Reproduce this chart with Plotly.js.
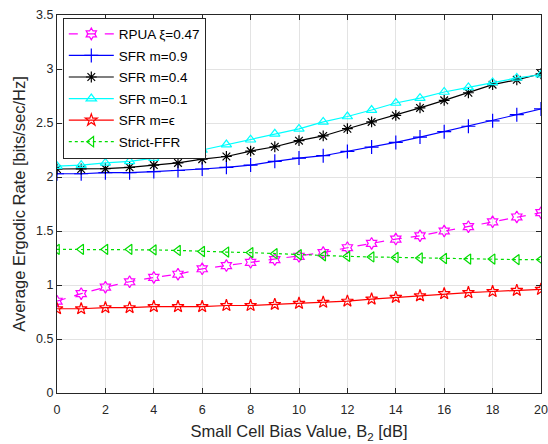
<!DOCTYPE html>
<html>
<head>
<meta charset="utf-8">
<script src="https://cdn.plot.ly/plotly-3.0.1.min.js"></script>
<style>html,body{margin:0;padding:0;background:#fff;}#chart{width:548px;height:444px;}</style>
</head>
<body>
<div id="chart"></div>
<script>
const biasDb = [0,1,2,3,4,5,6,7,8,9,10,11,12,13,14,15,16,17,18,19,20];
const rpua = [0.85,0.92,0.98,1.03,1.07,1.10,1.15,1.18,1.21,1.235,1.265,1.30,1.345,1.385,1.425,1.456,1.50,1.54,1.585,1.63,1.67];
const sfr09 = [2.03,2.03,2.04,2.04,2.05,2.06,2.074,2.09,2.11,2.145,2.175,2.197,2.237,2.277,2.32,2.37,2.42,2.47,2.52,2.577,2.63];
const sfr04 = [2.074,2.074,2.077,2.09,2.11,2.13,2.165,2.19,2.24,2.28,2.336,2.38,2.447,2.51,2.57,2.64,2.71,2.78,2.855,2.90,2.956];
const sfr01 = [2.10,2.11,2.13,2.145,2.175,2.20,2.25,2.30,2.345,2.40,2.445,2.51,2.56,2.62,2.685,2.73,2.787,2.83,2.876,2.917,2.947];
const sfrEps = [0.78,0.78,0.79,0.79,0.80,0.80,0.80,0.81,0.81,0.82,0.83,0.84,0.85,0.87,0.885,0.90,0.92,0.93,0.94,0.95,0.96];
const strictFfr = [1.33,1.33,1.33,1.33,1.325,1.32,1.31,1.305,1.30,1.29,1.28,1.27,1.265,1.26,1.255,1.25,1.245,1.24,1.24,1.235,1.235];
const seriesNames = ["RPUA \u03BE=0.47","SFR m=0.9","SFR m=0.4","SFR m=0.1","SFR m=\u03F5","Strict-FFR"];

const fam = "Liberation Sans, Arial, sans-serif";
const tickFont = {family: fam, size: 12.5, color: "#262626"};
const titleFont = {family: fam, size: 16.5, color: "#262626"};
function tr(y, name, color, symbol, dash, size) {
  return {x: biasDb, y: y, name: name, legendgroup: name, type: "scatter", mode: "lines+markers",
    line: {color: color, width: 1.2, dash: dash},
    marker: {symbol: symbol, size: size, color: color, line: {color: color, width: 1.2}}};
}
const data = [
  tr(rpua, seriesNames[0], "#ff00ff", "hexagram-open", "dash", 9),
  tr(sfr09, seriesNames[1], "#0000ff", "cross-thin-open", "solid", 10),
  tr(sfr04, seriesNames[2], "#000000", "asterisk-open", "solid", 9),
  tr(sfr01, seriesNames[3], "#00ffff", "triangle-up-open", "solid", 9),
  tr(sfrEps, seriesNames[4], "#ff0000", "star-open", "solid", 9),
  tr(strictFfr, seriesNames[5], "#00dd00", "triangle-left-open", "dot", 9)
];
const axisCommon = {showline: true, linecolor: "#262626", linewidth: 1, mirror: "ticks",
  ticks: "inside", ticklen: 5, tickcolor: "#262626", showgrid: true, gridcolor: "#e3e3e3",
  gridwidth: 1, zeroline: false, tickfont: tickFont, ticklabeloverflow: "allow"};
const layout = {
  width: 548, height: 444,
  margin: {l: 57, r: 7, t: 15, b: 51},
  paper_bgcolor: "#fff", plot_bgcolor: "#fff",
  font: tickFont,
  showlegend: true,
  xaxis: Object.assign({}, axisCommon, {range: [0, 20], dtick: 2, ticklabelstandoff: 5,
    title: {text: "Small Cell Bias Value, B<sub>2</sub> [dB]", font: titleFont, standoff: 9}}),
  yaxis: Object.assign({}, axisCommon, {range: [0, 3.5], dtick: 0.5,
    title: {text: "Average Ergodic Rate [bits/sec/Hz]", font: titleFont, standoff: 6}}),
  legend: {x: 0.012, y: 0.993, xanchor: "left", yanchor: "top", bgcolor: "#fff",
    bordercolor: "#262626", borderwidth: 1, font: {family: fam, size: 13.5, color: "#000"},
    tracegroupgap: 1, itemwidth: 45}
};
Plotly.newPlot("chart", data, layout, {displayModeBar: false, staticPlot: true});
</script>
</body>
</html>
